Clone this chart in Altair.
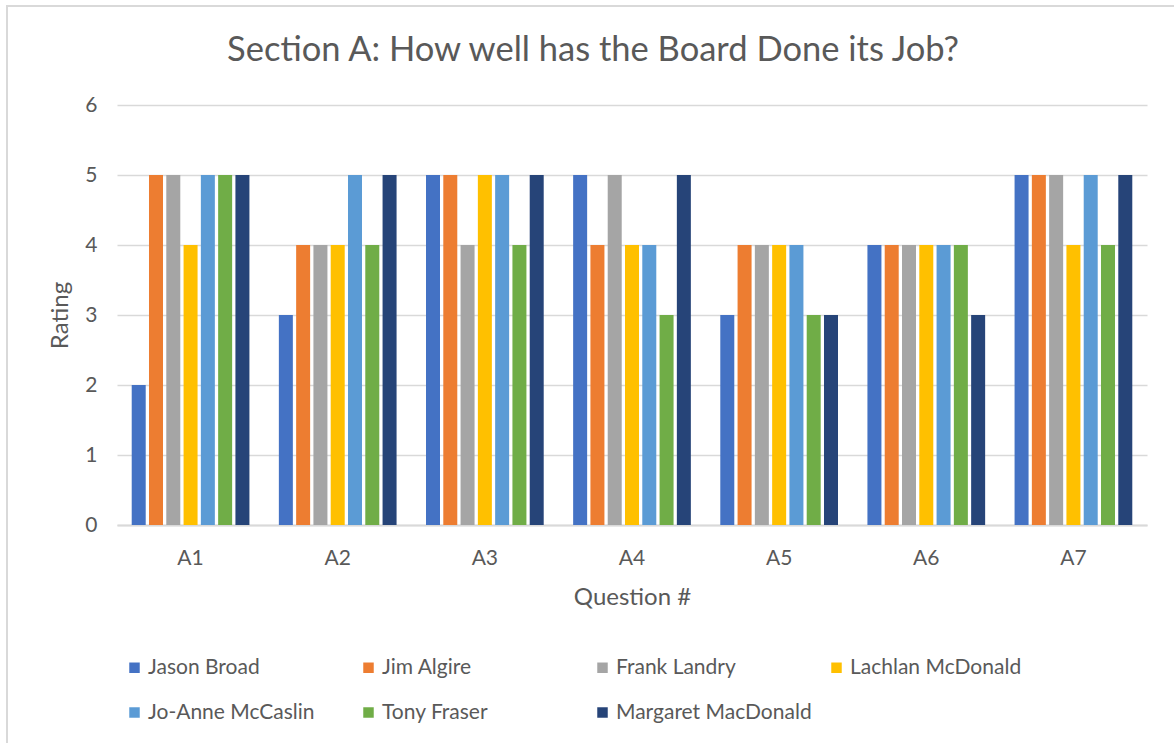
import altair as alt
import pandas as pd

questions = ["A1", "A2", "A3", "A4", "A5", "A6", "A7"]
people = ["Jason Broad", "Jim Algire", "Frank Landry", "Lachlan McDonald",
          "Jo-Anne McCaslin", "Tony Fraser", "Margaret MacDonald"]
colors = ["#4472C4", "#ED7D31", "#A5A5A5", "#FFC000", "#5B9BD5", "#70AD47", "#264478"]

jason_broad = [2, 3, 5, 5, 3, 4, 5]
jim_algire = [5, 4, 5, 4, 4, 4, 5]
frank_landry = [5, 4, 4, 5, 4, 4, 5]
lachlan_mcdonald = [4, 4, 5, 4, 4, 4, 4]
joanne_mccaslin = [5, 5, 5, 4, 4, 4, 5]
tony_fraser = [5, 4, 4, 3, 3, 4, 4]
margaret_macdonald = [5, 5, 5, 5, 3, 3, 5]

series = [jason_broad, jim_algire, frank_landry, lachlan_mcdonald,
          joanne_mccaslin, tony_fraser, margaret_macdonald]

rows = []
for person, vals in zip(people, series):
    for q, v in zip(questions, vals):
        rows.append({"Question": q, "Person": person, "Rating": v})
df = pd.DataFrame(rows)

FONT = "Lato"
TXT = "#595959"
GRID = "#D9D9D9"

bars = alt.Chart(df).mark_bar().encode(
    x=alt.X("Question:N", sort=questions,
            scale=alt.Scale(paddingInner=0.2, paddingOuter=0.1),
            axis=alt.Axis(title="Question #", labelAngle=0, labelFontSize=21,
                          labelColor=TXT, labelFont=FONT, labelPadding=22,
                          titleFontSize=24, titleColor=TXT, titleFont=FONT,
                          titleFontWeight="normal", titlePadding=17,
                          ticks=False, domainColor=GRID, domainWidth=2)),
    xOffset=alt.XOffset("Person:N", sort=people,
                        scale=alt.Scale(paddingInner=0.19, paddingOuter=0)),
    y=alt.Y("Rating:Q", scale=alt.Scale(domain=[0, 6], nice=False),
            axis=alt.Axis(title="Rating", values=[0, 1, 2, 3, 4, 5, 6],
                          labelFontSize=21, labelColor=TXT, labelFont=FONT,
                          labelPadding=20, titleFontSize=24, titleColor=TXT,
                          titleFont=FONT, titleFontWeight="normal", titlePadding=12,
                          labelOverlap=False,
                          ticks=False, domain=False, gridColor=GRID, gridWidth=1.5)),
    color=alt.Color("Person:N", sort=people,
                    scale=alt.Scale(domain=people, range=colors),
                    legend=alt.Legend(title=None, orient="none", legendX=7, legendY=552,
                                      direction="horizontal", columns=4,
                                      symbolType="square", symbolSize=110,
                                      symbolStrokeWidth=0, labelFontSize=21,
                                      labelColor=TXT, labelFont=FONT,
                                      labelOffset=3, rowPadding=23,
                                      columnPadding=14, gridAlign="all",
                                      labelLimit=300)),
)

border = alt.Chart(pd.DataFrame({"a": [0]})).mark_rect(
    fill=None, stroke=GRID, strokeWidth=2
).encode(x=alt.value(-110), x2=alt.value(1200), y=alt.value(-99), y2=alt.value(800))

chart = alt.layer(border, bars).properties(
    width=1030, height=420,
    title=alt.TitleParams("Section A: How well has the Board Done its Job?",
                          fontSize=34.5, font=FONT, color=TXT, fontWeight="normal",
                          anchor="middle", dx=-39, offset=-63),
    autosize=alt.AutoSizeParams(type="none"),
    padding={"left": 117, "top": 105, "right": 27, "bottom": 218},
).configure(background="white").configure_view(stroke=None)

chart.save("out.html", embed_options={"renderer": "svg", "actions": False})
